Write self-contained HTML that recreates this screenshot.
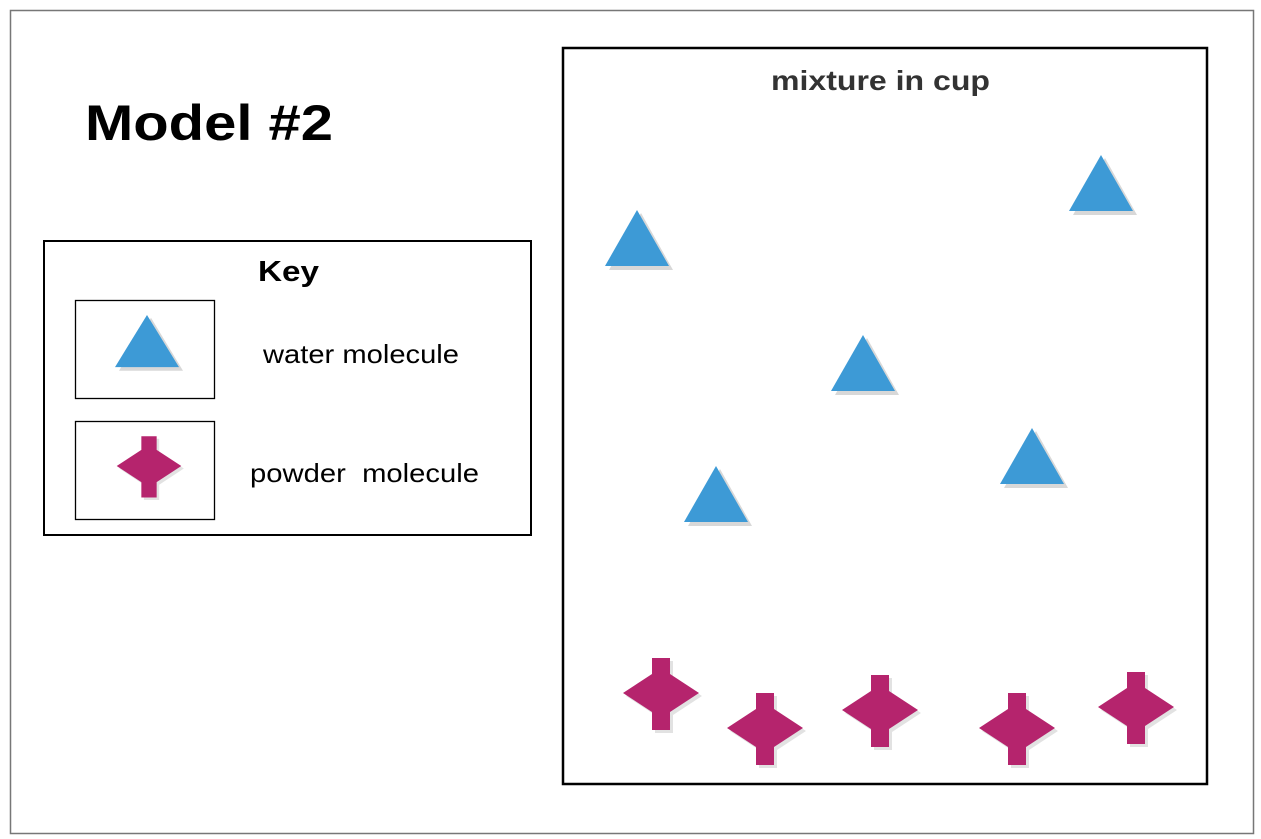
<!DOCTYPE html>
<html><head><style>
body{margin:0;background:#fff;}
svg{display:block;font-family:"Liberation Sans",sans-serif;}
</style></head><body>
<svg width="1261" height="839" viewBox="0 0 1261 839">
<defs>
<g id="tri">
<polygon points="4,3 36,60 -28,60" fill="#d8d8d8"/>
<polygon points="0,0 32,56 -32,56" fill="#3d9ad6"/>
</g>
<g id="pw">
<polygon points="-9,-35 9,-35 9,-19 38,0 9,19 9,37 -9,37 -9,19 -38,0 -9,-19" fill="#e2e2e2" transform="translate(3,3)"/>
<polygon points="-9,-35 9,-35 9,-19 38,0 9,19 9,37 -9,37 -9,19 -38,0 -9,-19" fill="#b5246d"/>
</g>
</defs>
<rect x="10.5" y="10.5" width="1243" height="823" fill="#fff" stroke="#777" stroke-width="1.5"/>
<text x="85" y="140" font-size="50" font-weight="bold" textLength="248" lengthAdjust="spacingAndGlyphs">Model #2</text>
<rect x="44" y="241" width="487" height="294" fill="none" stroke="#000" stroke-width="2"/>
<text x="258" y="281" font-size="29" font-weight="bold" textLength="61" lengthAdjust="spacingAndGlyphs">Key</text>
<rect x="75.5" y="300.5" width="139" height="98" fill="none" stroke="#000" stroke-width="1.3"/>
<rect x="75.5" y="421.5" width="139" height="98" fill="none" stroke="#000" stroke-width="1.3"/>
<use href="#tri" transform="translate(147,315) scale(1,0.93)"/>
<use href="#pw" transform="translate(149,466) scale(0.85)"/>
<text x="263" y="363" font-size="26" textLength="196" lengthAdjust="spacingAndGlyphs">water molecule</text>
<text x="250" y="482" font-size="26" xml:space="preserve" textLength="229" lengthAdjust="spacingAndGlyphs">powder  molecule</text>
<rect x="563" y="48" width="644" height="736" fill="none" stroke="#000" stroke-width="2.5"/>
<text x="771" y="90" font-size="28" font-weight="bold" fill="#333" textLength="219" lengthAdjust="spacingAndGlyphs">mixture in cup</text>
<use href="#tri" transform="translate(637,210)"/>
<use href="#tri" transform="translate(1101,155)"/>
<use href="#tri" transform="translate(863,335)"/>
<use href="#tri" transform="translate(1032,428)"/>
<use href="#tri" transform="translate(716,466)"/>
<use href="#pw" transform="translate(661,693)"/>
<use href="#pw" transform="translate(765,728)"/>
<use href="#pw" transform="translate(880,710)"/>
<use href="#pw" transform="translate(1017,728)"/>
<use href="#pw" transform="translate(1136,707)"/>
</svg>
</body></html>
